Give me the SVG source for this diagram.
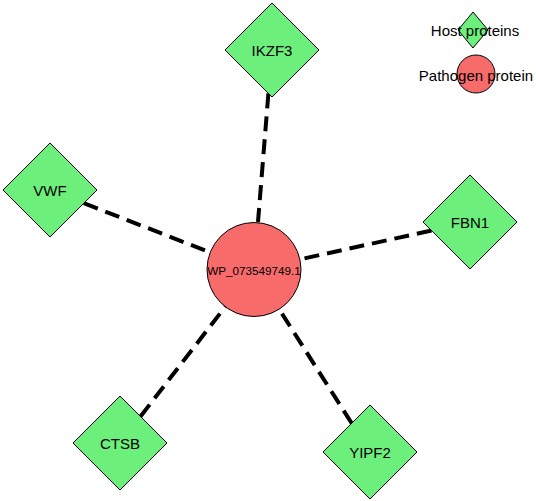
<svg xmlns="http://www.w3.org/2000/svg" width="536" height="501" viewBox="0 0 536 501">
<style>
.host{fill:#6cf07b;stroke:#000;stroke-width:1}
.path{fill:#f76b6b;stroke:#000;stroke-width:1}
.edge{stroke:#000;stroke-width:4;stroke-dasharray:15 8;fill:none}
text{font-family:"Liberation Sans",Arial,sans-serif;fill:#000;text-anchor:middle;dominant-baseline:central}
.lbl{font-size:15px}
</style>
<rect width="536" height="501" fill="#fff"/>
<g id="edges">
<line class="edge" x1="268.4" y1="93.4" x2="258" y2="222"/>
<line class="edge" x1="83.8" y1="203.2" x2="210.2" y2="252.4"/>
<line class="edge" x1="431.5" y1="230.5" x2="299.9" y2="259.4"/>
<line class="edge" x1="140.5" y1="416.5" x2="225.3" y2="306.7"/>
<line class="edge" x1="351.7" y1="423.3" x2="279.2" y2="309.2"/>
</g>
<g id="WP_073549749.1">
<circle class="path" cx="254" cy="269.5" r="47"/>
<text x="254" y="270" style="font-size:11.7px">WP_073549749.1</text>
</g>
<g id="IKZF3">
<polygon class="host" points="272,3 319,50 272,97 225,50"/>
<text class="lbl" x="272" y="50">IKZF3</text>
</g>
<g id="VWF">
<polygon class="host" points="50,143 97,190 50,237 3,190"/>
<text class="lbl" x="50" y="190">VWF</text>
</g>
<g id="FBN1">
<polygon class="host" points="470,175 517,222 470,269 423,222"/>
<text class="lbl" x="470" y="222">FBN1</text>
</g>
<g id="CTSB">
<polygon class="host" points="120,396 167,443 120,490 73,443"/>
<text class="lbl" x="120" y="443">CTSB</text>
</g>
<g id="YIPF2">
<polygon class="host" points="370,405 417,452 370,499 323,452"/>
<text class="lbl" x="370" y="452">YIPF2</text>
</g>
<g id="legend">
<polygon class="host" points="473,12 488,30 473,48 458,30"/>
<text x="475" y="30" style="font-size:15px">Host proteins</text>
<circle class="path" cx="476" cy="74" r="19"/>
<text x="476" y="75" style="font-size:15px">Pathogen protein</text>
</g>
</svg>
